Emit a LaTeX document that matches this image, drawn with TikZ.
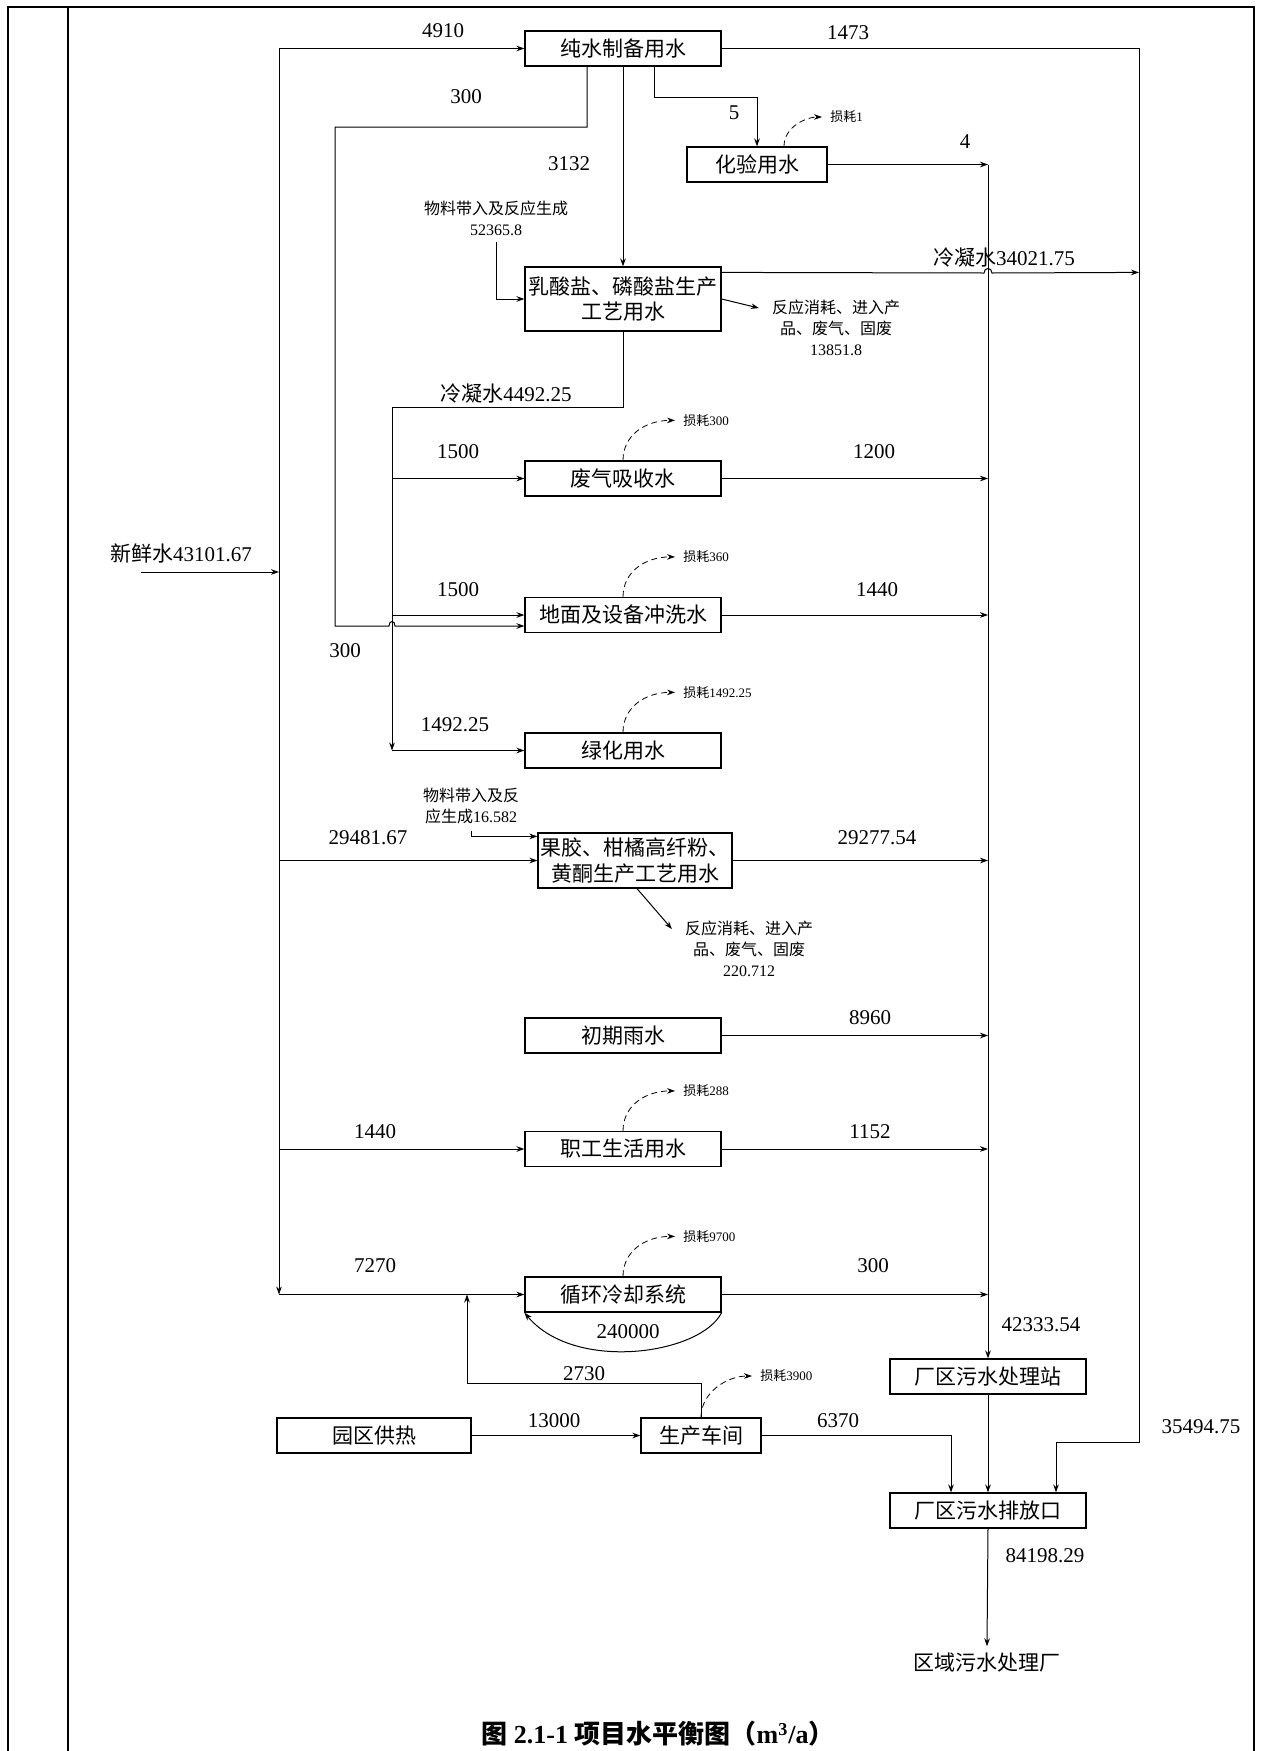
\documentclass[tikz,border=0pt]{standalone}
\usepackage{fontspec}
\setmainfont{Liberation Serif}
\newfontfamily\cjk{Noto Sans CJK SC}
\newcommand{\zh}[1]{{\cjk #1}}
\usetikzlibrary{arrows.meta}

\begin{document}
\begin{tikzpicture}[x=0.5pt,y=-0.5pt,>={Stealth[length=4pt,width=2.8pt]},
  font=\fontsize{10.5}{12.6}\selectfont,
  box/.style={draw,line width=0.6pt,minimum width=98pt,minimum height=17.5pt,inner sep=1pt,align=center},
  flow/.style={->,line width=0.5pt},
  loss/.style={->,densely dashed,line width=0.4pt},
  lossl/.style={anchor=west,inner xsep=4pt,font=\fontsize{6.5}{8}\selectfont},
  note/.style={align=center,font=\fontsize{8}{10.5}\selectfont}]
\useasboundingbox (0,0) rectangle (1260,1751);
% table frame
\draw[line width=1pt] (8,1751) -- (8,7) -- (1254,7) -- (1254,1751) (68,7) -- (68,1751);

% units
\node[box] (pure) at (623,48.5) {\zh{纯水制备用水}};
\node[box,minimum width=70pt] (lab) at (757,164.5) {\zh{化验用水}};
\node[box,minimum height=32pt] (lact) at (623,299) {\zh{乳酸盐、磷酸盐生产}\\\zh{工艺用水}};
\node[box] (gas) at (623,478.5) {\zh{废气吸收水}};
\node[box] (wash) at (623,615) {\zh{地面及设备冲洗水}};
\node[box] (green) at (623,750.5) {\zh{绿化用水}};
\node[box,minimum width=97pt,minimum height=27.5pt] (pect) at (635,860.5) {\zh{果胶、柑橘高纤粉、}\\\zh{黄酮生产工艺用水}};
\node[box] (rain) at (623,1035.5) {\zh{初期雨水}};
\node[box] (staff) at (623,1149) {\zh{职工生活用水}};
\node[box] (cool) at (623,1294.5) {\zh{循环冷却系统}};
\node[box,minimum width=97pt] (heat) at (374,1435.5) {\zh{园区供热}};
\node[box,minimum width=60pt] (shop) at (701,1435.5) {\zh{生产车间}};
\node[box] (wwtp) at (988,1376.5) {\zh{厂区污水处理站}};
\node[box] (outlet) at (988,1510.5) {\zh{厂区污水排放口}};
\node (park) at (987,1663) {\zh{区域污水处理厂}};

% fresh water trunk
\coordinate (t0) at (279,48.5); \coordinate (t1) at (279,1294.5); \coordinate (fw) at (141,572);
\node (nfw) at (181,554) {\zh{新鲜水}43101.67};
\draw[flow] (fw) -- (fw -| t0);
\draw[flow] (t0) -- (t1);
\draw[flow] (t0) -- (pure.west);
\node (n4910) at (443,31) {4910};
\draw[flow] (pect.west -| t0) -- (pect.west);
\draw[flow] (staff.west -| t0) -- (staff.west);
\draw[flow] (t1) -- (cool.west);

% pure water
\coordinate (p0) at (335,127); \coordinate (wl) at ([yshift=-5.5pt]wash.west); \coordinate (k0) at (757,97);
\draw[flow] ([xshift=-18pt]pure.south) |- (p0) -- (p0 |- wl) -- (389,626) .. controls (389,620) and (395,620) .. (395,626) -- (wl);
\draw[flow] (pure.south) -- (lact.north);
\draw[flow] ([xshift=15.5pt]pure.south) |- (k0) -- (lab.north);
\node (n300a) at (466,97) {300}; \node (n3132) at (569,164) {3132}; \node (n5) at (734,113) {5};

% lab
\node[lossl] (l1) at (822,117) {\zh{损耗}1};
\draw[loss] ([xshift=13.5pt]lab.north) .. controls +(0,-20) and +(-15,0) .. (l1.west);
\draw[flow] (lab.east) -- (lab.east -| wwtp);
\node (n4) at (965,142) {4};
\draw[flow] (lab.east -| wwtp) -- (wwtp.north);

% lactate line
\node[note] (m1) at (496,218) {\zh{物料带入及反应生成}\\52365.8};
\draw[flow] (m1.south) |- (lact.west);
\node[note] (r1) at (836,328) {\zh{反应消耗、进入产}\\\zh{品、废气、固废}\\13851.8};
\draw[flow] (lact.east) -- ([xshift=-3pt,yshift=-7.5pt]r1.north west);
\coordinate (cd) at ([yshift=-3pt]lact.north east); \coordinate (q1) at (1139,1442);
\draw[flow] (cd) -- (984,273) .. controls (984,267) and (992,267) .. (992,273) -- (cd -| q1);
\node (ncd1) at (1004,258) {\zh{冷凝水}34021.75};
\coordinate (b0) at (392,407); \coordinate (b1) at (392,750.5);
\draw[flow] (lact.south) |- (b0) -- (b1);
\node (ncd2) at (506,394) {\zh{冷凝水}4492.25};
\draw[flow] (b0 |- gas.west) -- (gas.west);
\draw[flow] (b0 |- wash.west) -- (wash.west);
\draw[flow] (b1) -- (green.west);
\node (n1500a) at (458,452) {1500}; \node (n1500b) at (458,590) {1500};
\node (n300b) at (345,651) {300}; \node (n1492) at (455,725) {1492.25};

% losses
\foreach \b/\n/\v in {gas/l2/300,wash/l3/360,green/l4/1492.25,staff/l5/288,cool/l6/9700}{
  \node[lossl] (\n) at ([xshift=26pt,yshift=20pt]\b.north) {\zh{损耗}\v};
  \draw[loss] (\b.north) .. controls +(0,-25) and +(-30,0) .. (\n.west);
}

% to collection line
\foreach \b in {gas,wash,pect,rain,staff,cool}
  \draw[flow] (\b.east) -- (\b.east -| wwtp);
\node (n1200) at (874,452) {1200}; \node (n1440a) at (877,590) {1440};
\node (n29481) at (368,838) {29481.67}; \node (n29277) at (877,838) {29277.54};
\node (n8960) at (870,1018) {8960}; \node (n1440b) at (375,1132) {1440};
\node (n1152) at (870,1132) {1152}; \node (n7270) at (375,1266) {7270}; \node (n300c) at (873,1266) {300};

% pectin line
\node[note] (m2) at (471,806) {\zh{物料带入及反}\\\zh{应生成}16.582};
\draw[flow] (m2.south) |- ([yshift=-2pt]pect.north west);
\node[note] (r2) at (749,949) {\zh{反应消耗、进入产}\\\zh{品、废气、固废}\\220.712};
\draw[flow] ([xshift=1pt]pect.south) -- ([xshift=-3pt,yshift=-7.5pt]r2.north west);

% cooling, heat
\draw[flow] (cool.south east) .. controls +(-21,42) and +(50,60) .. (cool.south west);
\node (n240000) at (628,1332) {240000};
\coordinate (s0) at (467,1383);
\draw[flow] (shop.north) |- (s0) -- (s0 |- cool.west);
\node (n2730) at (584,1374) {2730};
\node[lossl] (l7) at (752,1376) {\zh{损耗}3900};
\draw[loss] (shop.north) .. controls +(0,-25) and +(-25,0) .. (l7.west);
\draw[flow] (heat.east) -- (shop.west);
\node (n13000) at (554,1421) {13000};
\draw[flow] (shop.east) -| ([xshift=-18.5pt]outlet.north);
\node (n6370) at (838,1421) {6370};

% outlet
\node (n42333) at (1041,1325) {42333.54};
\draw[flow] (pure.east) -| (q1) -| ([xshift=34pt]outlet.north);
\node (n1473) at (848,33) {1473}; \node (n35494) at (1201,1427) {35494.75};
\draw[flow] (wwtp.south) -- (outlet.north);
\draw[flow] (outlet.south) -- (park.north);
\node (n84198) at (1045,1556) {84198.29};

\node[font=\bfseries\fontsize{13}{15}\selectfont] (ttl) at (658,1734) {\zh{图} 2.1-1 \zh{项目水平衡图（}m\textsuperscript{3}/a\zh{）}};
\end{tikzpicture}
\end{document}
